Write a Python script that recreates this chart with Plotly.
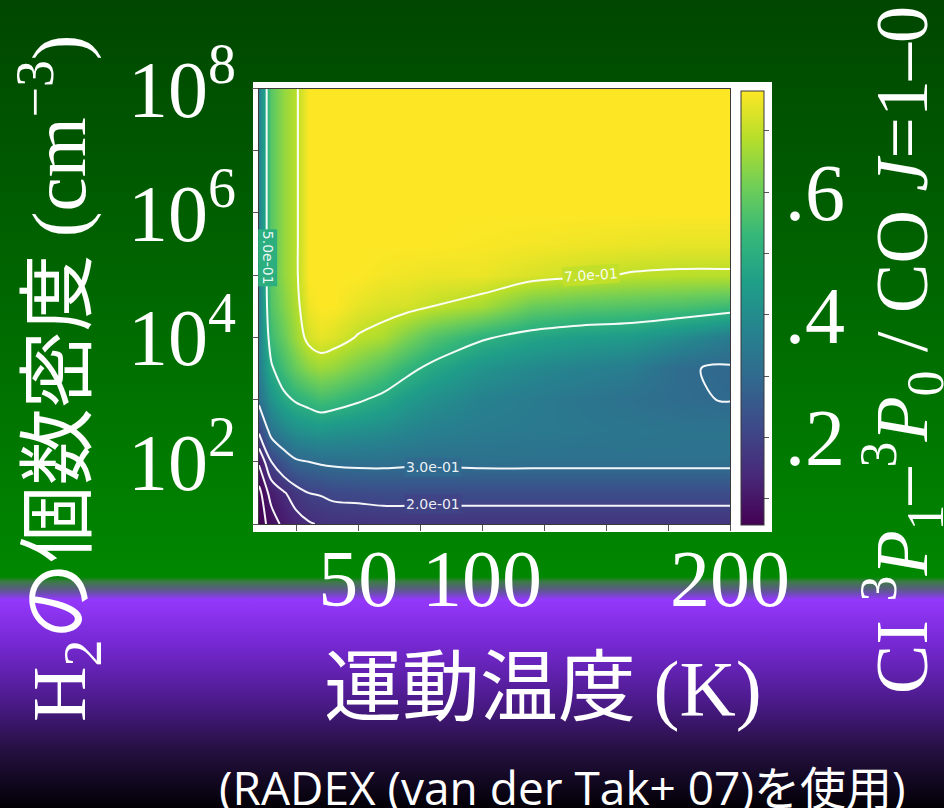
import base64
import plotly.graph_objects as go
from plotly.colors import sample_colorscale

# Kinetic temperature grid (K) and log10 of H2 number density (cm^-3)
temperature_k = [10, 15, 20, 25, 30, 35, 40, 50, 60, 70, 80, 100, 120, 140, 160, 180, 200]
log_density = [1, 1.5, 2, 2.5, 3, 3.5, 4, 4.5, 5, 5.5, 6, 7, 8]

# CI 3P1-3P0 / CO J=1-0 line ratio, one row per density, one column per temperature
ratio_n1_0 = [0.057, 0.080, 0.110, 0.130, 0.145, 0.155, 0.160, 0.160, 0.165, 0.165, 0.165, 0.165, 0.165, 0.165, 0.165, 0.165, 0.165]
ratio_n1_5 = [0.060, 0.115, 0.145, 0.175, 0.200, 0.205, 0.215, 0.220, 0.225, 0.225, 0.225, 0.225, 0.225, 0.225, 0.225, 0.225, 0.225]
ratio_n2_0 = [0.105, 0.200, 0.250, 0.290, 0.300, 0.310, 0.315, 0.320, 0.320, 0.315, 0.315, 0.320, 0.320, 0.320, 0.320, 0.320, 0.320]
ratio_n2_5 = [0.210, 0.330, 0.380, 0.410, 0.420, 0.430, 0.420, 0.410, 0.400, 0.380, 0.365, 0.350, 0.345, 0.340, 0.335, 0.330, 0.330]
ratio_n3_0 = [0.320, 0.420, 0.480, 0.510, 0.530, 0.550, 0.540, 0.510, 0.480, 0.440, 0.410, 0.370, 0.350, 0.335, 0.320, 0.305, 0.298]
ratio_n3_5 = [0.360, 0.490, 0.550, 0.600, 0.640, 0.660, 0.650, 0.610, 0.570, 0.520, 0.480, 0.420, 0.390, 0.370, 0.355, 0.305, 0.293]
ratio_n4_0 = [0.370, 0.540, 0.600, 0.660, 0.720, 0.740, 0.730, 0.695, 0.675, 0.620, 0.570, 0.510, 0.470, 0.450, 0.440, 0.400, 0.350]
ratio_n4_5 = [0.370, 0.570, 0.630, 0.680, 0.750, 0.765, 0.765, 0.740, 0.725, 0.720, 0.700, 0.670, 0.600, 0.580, 0.570, 0.560, 0.540]
ratio_n5_0 = [0.370, 0.580, 0.650, 0.690, 0.765, 0.765, 0.765, 0.765, 0.755, 0.750, 0.745, 0.745, 0.725, 0.710, 0.695, 0.690, 0.690]
ratio_n5_5 = [0.370, 0.580, 0.650, 0.690, 0.765, 0.765, 0.765, 0.765, 0.765, 0.765, 0.765, 0.760, 0.755, 0.750, 0.745, 0.740, 0.740]
ratio_n6_0 = [0.370, 0.580, 0.650, 0.690, 0.765, 0.765, 0.765, 0.765, 0.765, 0.765, 0.765, 0.765, 0.765, 0.765, 0.765, 0.765, 0.765]
ratio_n7_0 = [0.370, 0.580, 0.650, 0.690, 0.765, 0.765, 0.765, 0.765, 0.765, 0.765, 0.765, 0.765, 0.765, 0.765, 0.765, 0.765, 0.765]
ratio_n8_0 = [0.370, 0.580, 0.650, 0.690, 0.765, 0.765, 0.765, 0.765, 0.765, 0.765, 0.765, 0.765, 0.765, 0.765, 0.765, 0.765, 0.765]

line_ratio = [ratio_n1_0, ratio_n1_5, ratio_n2_0, ratio_n2_5, ratio_n3_0, ratio_n3_5, ratio_n4_0,
              ratio_n4_5, ratio_n5_0, ratio_n5_5, ratio_n6_0, ratio_n7_0, ratio_n8_0]

ratio_min = 0.057
ratio_max = 0.765

# contour levels drawn over the map
contour_levels = [0.07, 0.10, 0.15, 0.20, 0.30, 0.50, 0.70]

# axis ticks
temp_tick_vals = [50, 100, 200]
temp_tick_text = ["50", "100", "200"]
dens_tick_vals = [2, 4, 6, 8]
dens_tick_text = ["10<sup>2</sup>", "10<sup>4</sup>", "10<sup>6</sup>", "10<sup>8</sup>"]
cbar_tick_vals = [0.1, 0.2, 0.3, 0.4, 0.5, 0.6, 0.7]
cbar_tick_text = ["", ".2", "", ".4", "", ".6", ""]

W, H = 944, 808
SERIF = "Liberation Serif"
JP = "Noto Sans CJK JP"
BIG = 80


def px(x):
    return x / W


def py(y):
    return 1 - y / H


fig = go.Figure()

fig.add_trace(go.Heatmap(
    x=temperature_k, y=log_density, z=line_ratio,
    colorscale="Viridis", zmin=ratio_min, zmax=ratio_max, zsmooth="best",
    hoverinfo="skip",
    colorbar=dict(
        x=px(741), xanchor="left", xpad=0,
        y=py(308), yanchor="middle", ypad=0,
        len=(525 - 91) / H, lenmode="fraction",
        thickness=23, thicknessmode="pixels",
        outlinecolor="#3a3a3a", outlinewidth=1,
        tickvals=cbar_tick_vals, ticktext=cbar_tick_text,
        ticks="outside", ticklen=5, tickcolor="#555555", tickwidth=1,
        tickfont=dict(family=SERIF, size=BIG, color="white"),
    ),
))

for lv in contour_levels:
    fig.add_trace(go.Contour(
        x=temperature_k, y=log_density, z=line_ratio,
        contours=dict(start=lv, end=lv, size=1, coloring="none"),
        line=dict(color="rgba(255,255,255,0.95)", width=2, smoothing=1.0),
        showscale=False, hoverinfo="skip",
    ))

# contour label placements: (level, temperature, log density, angle)
label_spots = [(0.50, 13.6, 5.28, 90), (0.70, 144.0, 5.0, -4), (0.30, 80.0, 1.91, 0), (0.20, 80.0, 1.32, 0)]
annotations = []
for lv, tx, ly, ang in label_spots:
    bg = sample_colorscale("Viridis", [(lv - ratio_min) / (ratio_max - ratio_min)])[0]
    annotations.append(dict(
        x=tx, y=ly, xref="x", yref="y", text=f"{lv:.1e}",
        showarrow=False, textangle=ang, bgcolor=bg, borderpad=1,
        font=dict(family="DejaVu Sans", size=14, color="rgba(255,255,255,0.92)"),
    ))

# slide texts
serif_span = '<span style="font-family:Liberation Serif">{}</span>'
annotations += [
    dict(x=px(54), y=py(378), xref="paper", yref="paper", xanchor="center", yanchor="middle",
         showarrow=False, textangle=-90,
         text=serif_span.format("H<sub>2</sub>") + "の個数密度 " + serif_span.format("(cm<sup>−3</sup>)"),
         font=dict(family=JP, size=77, color="white")),
    dict(x=px(543), y=py(681), xref="paper", yref="paper", xanchor="center", yanchor="middle",
         showarrow=False,
         text="運動温度 " + serif_span.format("(K)"),
         font=dict(family=JP, size=78, color="white")),
    dict(x=px(902), y=py(350), xref="paper", yref="paper", xanchor="center", yanchor="middle",
         showarrow=False, textangle=-90,
         text="CI <sup>3</sup><i>P</i><sub>1</sub>–<sup>3</sup><i>P</i><sub>0</sub> / CO <i>J</i>=1–0",
         font=dict(family=SERIF, size=74, color="white")),
    dict(x=px(562), y=py(787), xref="paper", yref="paper", xanchor="center", yanchor="middle",
         showarrow=False,
         text="(RADEX (van der Tak+ 07)を使用)",
         font=dict(family="Open Sans, Noto Sans CJK JP", size=46, color="white")),
]

# slide background: green fading into violet and black
stops = [(0.0, "#004600"), (0.70, "#008600"), (0.714, "#008800"), (0.720, "#3d7a48"),
         (0.728, "#56607a"), (0.735, "#6f4cb8"), (0.742, "#9438fb"), (0.80, "#7428d0"),
         (0.87, "#4a1a88"), (0.93, "#24103f"), (1.0, "#020005")]
stop_xml = "".join(f'<stop offset="{o}" stop-color="{c}"/>' for o, c in stops)
svg = (f'<svg xmlns="http://www.w3.org/2000/svg" width="{W}" height="{H}" preserveAspectRatio="none">'
       f'<defs><linearGradient id="g" x1="0" y1="0" x2="0" y2="1">{stop_xml}</linearGradient></defs>'
       f'<rect width="{W}" height="{H}" fill="url(#g)"/></svg>')
bg_src = "data:image/svg+xml;base64," + base64.b64encode(svg.encode()).decode()

axis_common = dict(showgrid=False, zeroline=False, showline=True, mirror=True,
                   linecolor="#3a3a3a", linewidth=1, ticks="outside", ticklen=6,
                   tickcolor="#555555", tickwidth=1, automargin=False)

fig.update_layout(
    width=W, height=H, margin=dict(l=0, r=0, t=0, b=0, autoexpand=False),
    paper_bgcolor="black", plot_bgcolor="white", showlegend=False,
    images=[dict(source=bg_src, xref="paper", yref="paper", x=0, y=1, sizex=1, sizey=1,
                 sizing="stretch", xanchor="left", yanchor="top", layer="below")],
    shapes=[dict(type="rect", xref="paper", yref="paper", x0=px(253), x1=px(772),
                 y0=py(532), y1=py(82), fillcolor="white", line=dict(width=0), layer="below")],
    xaxis=dict(domain=[px(259), px(730)], range=[10, 200], tickvals=temp_tick_vals,
               ticktext=temp_tick_text, ticklabelstandoff=-21,
               tickfont=dict(family=SERIF, size=BIG, color="white"),
               minor=dict(dtick=25, tick0=0, ticks="outside", ticklen=6, tickcolor="#555555"),
               **axis_common),
    yaxis=dict(domain=[py(524), py(88.5)], range=[1, 8], tickvals=dens_tick_vals,
               ticktext=dens_tick_text, ticklabelstandoff=0,
               tickfont=dict(family=SERIF, size=BIG, color="white"),
               minor=dict(dtick=1, tick0=0, ticks="outside", ticklen=6, tickcolor="#555555"),
               **axis_common),
    annotations=annotations,
)

fig.write_html("out.html")
